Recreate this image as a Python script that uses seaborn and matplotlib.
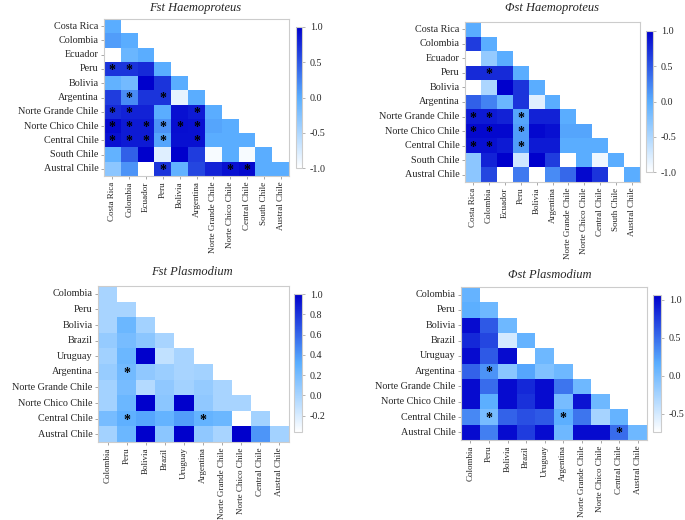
import numpy as np
import matplotlib
matplotlib.use("Agg")
import matplotlib.pyplot as plt
import seaborn as sns
from matplotlib.colors import LinearSegmentedColormap

sns.set_style("white")
plt.rcParams['font.family'] = ['Liberation Serif', 'DejaVu Serif']

# populations
haemo_pops = ['Costa Rica', 'Colombia', 'Ecuador', 'Peru', 'Bolivia', 'Argentina',
              'Norte Grande Chile', 'Norte Chico Chile', 'Central Chile',
              'South Chile', 'Austral Chile']
plasmo_pops = ['Colombia', 'Peru', 'Bolivia', 'Brazil', 'Uruguay', 'Argentina',
               'Norte Grande Chile', 'Norte Chico Chile', 'Central Chile',
               'Austral Chile']

# lower triangle values (row by row, diagonal included)
fst_haemo = [
    [0.0],
    [0.1, 0.0],
    [-1.0, -0.1, 0.0],
    [0.7, 0.7, 0.75, 0.0],
    [-0.05, -0.15, 1.0, 0.7, 0.0],
    [0.65, 0.2, 0.7, 0.7, -0.85, 0.0],
    [0.75, 0.8, 0.8, 0.0, 0.9, 0.85, 0.0],
    [0.95, 0.85, 0.85, 0.15, 0.92, 0.9, 0.05, 0.0],
    [0.9, 0.85, 0.85, 0.05, 0.9, 0.9, 0.0, 0.0, 0.0],
    [-0.05, 0.45, 1.0, -0.8, 1.0, 0.65, -0.95, 0.0, -0.95, 0.0],
    [-0.3, 0.15, -1.0, 0.7, -0.05, 0.6, 0.8, 0.9, 0.95, 0.0, 0.0],
]
fst_haemo_sig = [(3, 0), (3, 1), (5, 1), (5, 3), (6, 0), (6, 1), (6, 5),
                 (7, 0), (7, 1), (7, 2), (7, 3), (7, 4), (7, 5),
                 (8, 0), (8, 1), (8, 2), (8, 3), (8, 5), (10, 3), (10, 7), (10, 8)]

phist_haemo = [
    [0.0],
    [0.65, 0.0],
    [-1.0, -0.35, 0.0],
    [0.75, 0.75, 0.75, 0.0],
    [-1.0, -0.5, 1.0, 0.7, 0.0],
    [0.45, 0.25, -0.1, 0.7, -0.8, 0.0],
    [0.85, 0.85, 0.8, 0.05, 0.8, 0.8, 0.0],
    [0.95, 0.95, 0.95, 0.1, 0.95, 0.9, 0.05, 0.05],
    [0.9, 0.9, 0.85, 0.1, 0.85, 0.85, 0.0, 0.0, 0.0],
    [-0.3, 0.8, 1.0, -0.7, 1.0, 0.65, -1.0, 0.0, -0.9, 0.0],
    [-0.3, 0.6, -1.0, 0.3, -1.0, 0.2, 0.4, 0.95, 0.7, -1.0, 0.0],
]
phist_haemo_sig = [(3, 1), (6, 0), (6, 1), (6, 3), (7, 0), (7, 1), (7, 3),
                   (8, 0), (8, 1), (8, 3)]

fst_plasmo = [
    [0.0],
    [0.0, 0.0],
    [0.0, 0.25, 0.02],
    [0.08, 0.2, 0.12, 0.0],
    [0.03, 0.25, 1.0, -0.1, 0.0],
    [0.07, 0.22, 0.1, 0.05, 0.0, 0.02],
    [0.02, 0.2, -0.05, 0.1, 0.02, 0.08, 0.0],
    [0.02, 0.25, 1.0, 0.12, 1.0, 0.1, 0.0, 0.0],
    [0.2, 0.3, 0.35, 0.28, 0.38, 0.28, 0.25, -0.36, 0.02],
    [0.02, 0.25, 1.0, 0.12, 1.0, 0.1, 0.0, 1.0, 0.42, 0.02],
]
fst_plasmo_sig = [(5, 1), (8, 1), (8, 5)]

phist_plasmo = [
    [0.1],
    [0.15, 0.05],
    [1.0, 0.6, 0.05],
    [0.85, 0.7, -0.5, 0.1],
    [1.0, 0.6, 1.0, -0.74, 0.05],
    [0.55, 0.3, -0.1, 0.2, -0.05, 0.05],
    [1.0, 0.5, 1.0, 0.85, 1.0, 0.45, 0.05],
    [1.0, 0.15, 1.0, 0.8, 1.0, 0.0, 0.95, 0.05],
    [0.35, 0.0, 0.55, 0.65, 0.6, 0.15, 0.45, -0.25, 0.1],
    [1.0, 0.4, 1.0, 0.75, 1.0, 0.05, 1.0, 1.0, 0.5, 0.05],
]
phist_plasmo_sig = [(5, 1), (8, 1), (8, 5), (9, 8)]

cmap = LinearSegmentedColormap.from_list('wb', ['#ffffff', '#5aaeff', '#0000cc'])


def full_matrix(rows):
    n = len(rows)
    m = np.full((n, n), np.nan)
    for i, r in enumerate(rows):
        m[i, :len(r)] = r
    return m


def draw(fig, rows, sig, pops, title, vmin, vmax, ticks, ax_box, cb_box, title_xy):
    W, H = 685, 520
    ax = fig.add_axes([ax_box[0] / W, 1 - ax_box[3] / H,
                       (ax_box[2] - ax_box[0]) / W, (ax_box[3] - ax_box[1]) / H])
    cax = fig.add_axes([cb_box[0] / W, 1 - cb_box[3] / H,
                        (cb_box[2] - cb_box[0]) / W, (cb_box[3] - cb_box[1]) / H])
    m = full_matrix(rows)
    annot = np.full(m.shape, '', dtype=object)
    for i, j in sig:
        annot[i, j] = '*'
    sns.heatmap(m, ax=ax, cbar_ax=cax, cmap=cmap, vmin=vmin, vmax=vmax,
                annot=annot, fmt='', square=False,
                annot_kws={'color': 'black', 'fontsize': 10, 'fontweight': 'bold',
                           'va': 'center_baseline'},
                xticklabels=pops, yticklabels=pops,
                cbar_kws={'ticks': ticks})
    ax.set_xticklabels(pops, rotation=90, fontsize=6.5)
    ax.set_yticklabels(pops, rotation=0, fontsize=7.3)
    ax.tick_params(axis='both', which='both', length=2.5, width=0.6,
                   color='#999999', bottom=True, left=True, pad=1.5)
    for s in ax.spines.values():
        s.set_visible(True)
        s.set_color('#cccccc')
        s.set_linewidth(0.8)
    cax.tick_params(labelsize=7.2, length=2, width=0.5, color='#999999')
    cax.set_yticklabels([f'{t:.1f}' for t in ticks])
    cb = ax.collections[0].colorbar
    cb.outline.set_edgecolor('#cccccc')
    cb.outline.set_linewidth(0.8)
    fig.text(title_xy[0] / W, 1 - title_xy[1] / H, title, ha='center', va='center',
             fontsize=9, fontstyle='italic')


fig = plt.figure(figsize=(6.85, 5.2), dpi=100)

draw(fig, fst_haemo, fst_haemo_sig, haemo_pops, 'Fst Haemoproteus',
     -1.0, 1.0, [-1.0, -0.5, 0.0, 0.5, 1.0],
     (104, 19, 289, 176), (296, 27, 302, 168), (195, 8))
draw(fig, phist_haemo, phist_haemo_sig, haemo_pops, 'Φst Haemoproteus',
     -1.0, 1.0, [-1.0, -0.5, 0.0, 0.5, 1.0],
     (465, 22, 640, 182), (646, 31, 653, 172), (552, 8))
draw(fig, fst_plasmo, fst_plasmo_sig, plasmo_pops, 'Fst Plasmodium',
     -0.36, 1.0, [-0.2, 0.0, 0.2, 0.4, 0.6, 0.8, 1.0],
     (98, 286, 289, 442), (294, 294, 302, 432), (192, 272))
draw(fig, phist_plasmo, phist_plasmo_sig, plasmo_pops, 'Φst Plasmodium',
     -0.74, 1.06, [-0.5, 0.0, 0.5, 1.0],
     (461, 287, 647, 440), (653, 295, 661, 432), (550, 275))

fig.savefig('out.png', dpi=100)
